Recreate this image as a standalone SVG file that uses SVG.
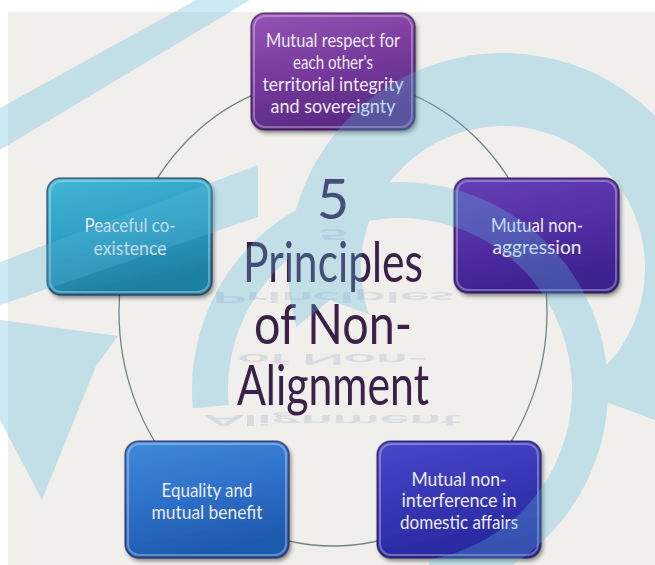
<svg xmlns="http://www.w3.org/2000/svg" width="655" height="565" viewBox="0 0 655 565">
  <defs>
    <style>
      .node-label { font-family: "Lato", "Open Sans", sans-serif; font-size: 19px; fill: #ecebf3; text-anchor: middle; }
      .title { font-family: "Lato", "Open Sans", sans-serif; font-size: 56px; fill: #3a2247; stroke: #f3e6f2; stroke-width: 1.2px; paint-order: stroke; text-anchor: middle; }
      .reflect { font-family: "Lato", "Open Sans", sans-serif; font-size: 56px; font-weight: bold; fill: #6a7ea6; opacity: 0.17; text-anchor: middle; }
      .ring { fill: none; stroke: #5ab8dc; }
      .edge { fill: none; stroke: #6f8585; stroke-width: 1.3; }
      .box-edge { fill: none; stroke: #1d0d35; stroke-opacity: 0.55; stroke-width: 1.5; }
      .box-shine { fill: none; stroke: #ffffff; stroke-opacity: 0.3; stroke-width: 2; }
    </style>
    <filter id="drop" x="-10%" y="-10%" width="125%" height="130%">
      <feDropShadow dx="2" dy="3" stdDeviation="2" flood-color="#000" flood-opacity="0.45"/>
    </filter>
    <linearGradient id="gPurple" x1="0" y1="0" x2="0.3" y2="1">
      <stop offset="0" stop-color="#9555b6"/>
      <stop offset="0.5" stop-color="#7a3c9f"/>
      <stop offset="1" stop-color="#5b2a86"/>
    </linearGradient>
    <linearGradient id="gViolet" x1="0" y1="0" x2="0.3" y2="1">
      <stop offset="0" stop-color="#6640b6"/>
      <stop offset="0.5" stop-color="#5530a6"/>
      <stop offset="1" stop-color="#3e2290"/>
    </linearGradient>
    <linearGradient id="gTeal" x1="0" y1="0" x2="0.3" y2="1">
      <stop offset="0" stop-color="#44b6d6"/>
      <stop offset="0.5" stop-color="#2ea0c4"/>
      <stop offset="1" stop-color="#1d80a4"/>
    </linearGradient>
    <linearGradient id="gBlue" x1="0" y1="0" x2="0.3" y2="1">
      <stop offset="0" stop-color="#428ad8"/>
      <stop offset="0.5" stop-color="#2f72cc"/>
      <stop offset="1" stop-color="#1f5aae"/>
    </linearGradient>
    <linearGradient id="gIndigo" x1="0" y1="0" x2="0.3" y2="1">
      <stop offset="0" stop-color="#4a48c8"/>
      <stop offset="0.5" stop-color="#3838b8"/>
      <stop offset="1" stop-color="#2928a0"/>
    </linearGradient>
    <!-- crescent in the upper right: outer disc minus inner disc -->
    <mask id="crescentCut">
      <rect x="0" y="0" width="655" height="565" fill="#fff"/>
      <circle cx="503" cy="268" r="142" fill="#000"/>
      <polygon points="0,565 330,300 655,420 655,565" fill="#000"/>
    </mask>
  </defs>

  <!-- page -->
  <rect x="0" y="0" width="655" height="565" fill="#ffffff"/>
  <rect x="8" y="12" width="647" height="553" fill="#f0efeb"/>

  <!-- ring that links the five principles -->
  <g id="connectors">
    <ellipse class="edge" cx="333" cy="312" rx="214" ry="234"/>
  </g>

  <!-- centre title with its mirrored shadow lines -->
  <g id="title">
    <text class="reflect" transform="translate(333,229) scale(1,-0.27)">5</text>
    <text class="reflect" transform="translate(333,292) scale(1,-0.27)">Principles</text>
    <text class="reflect" transform="translate(333,354) scale(1,-0.27)">of Non-</text>
    <text class="reflect" transform="translate(333,415) scale(1,-0.27)">Alignment</text>
    <text class="title" x="333" y="219">5</text>
    <text class="title" x="333" y="282" textLength="180" lengthAdjust="spacingAndGlyphs">Principles</text>
    <text class="title" x="333" y="344" textLength="158" lengthAdjust="spacingAndGlyphs">of Non-</text>
    <text class="title" x="333" y="405" textLength="192" lengthAdjust="spacingAndGlyphs">Alignment</text>
  </g>

  <g id="node-sovereignty">
    <rect x="251" y="13" width="164" height="117" rx="14" fill="url(#gPurple)" filter="url(#drop)"/>
    <rect class="box-shine" x="254" y="16" width="158" height="111" rx="11"/>
    <rect class="box-edge" x="251" y="13" width="164" height="117" rx="14"/>
    <text class="node-label" x="333" y="47" textLength="134" lengthAdjust="spacingAndGlyphs">Mutual respect for</text>
    <text class="node-label" x="333" y="69" textLength="80" lengthAdjust="spacingAndGlyphs">each other's</text>
    <text class="node-label" x="333" y="91" textLength="141" lengthAdjust="spacingAndGlyphs">territorial integrity</text>
    <text class="node-label" x="333" y="113" textLength="125" lengthAdjust="spacingAndGlyphs">and sovereignty</text>
  </g>

  <g id="node-non-aggression">
    <rect x="454" y="178" width="165" height="115" rx="14" fill="url(#gViolet)" filter="url(#drop)"/>
    <rect class="box-shine" x="457" y="181" width="159" height="109" rx="11"/>
    <rect class="box-edge" x="454" y="178" width="165" height="115" rx="14"/>
    <text class="node-label" x="537" y="232" textLength="92" lengthAdjust="spacingAndGlyphs">Mutual non-</text>
    <text class="node-label" x="537" y="254" textLength="89" lengthAdjust="spacingAndGlyphs">aggression</text>
  </g>

  <g id="node-non-interference">
    <rect x="377" y="441" width="164" height="117" rx="14" fill="url(#gIndigo)" filter="url(#drop)"/>
    <rect class="box-shine" x="380" y="444" width="158" height="111" rx="11"/>
    <rect class="box-edge" x="377" y="441" width="164" height="117" rx="14"/>
    <text class="node-label" x="459" y="486" textLength="95" lengthAdjust="spacingAndGlyphs">Mutual non-</text>
    <text class="node-label" x="459" y="507" textLength="115" lengthAdjust="spacingAndGlyphs">interference in</text>
    <text class="node-label" x="459" y="529" textLength="118" lengthAdjust="spacingAndGlyphs">domestic affairs</text>
  </g>

  <g id="node-equality">
    <rect x="125" y="441" width="164" height="117" rx="14" fill="url(#gBlue)" filter="url(#drop)"/>
    <rect class="box-shine" x="128" y="444" width="158" height="111" rx="11"/>
    <rect class="box-edge" x="125" y="441" width="164" height="117" rx="14"/>
    <text class="node-label" x="207" y="497" textLength="91" lengthAdjust="spacingAndGlyphs">Equality and</text>
    <text class="node-label" x="207" y="519" textLength="111" lengthAdjust="spacingAndGlyphs">mutual benefit</text>
  </g>

  <g id="node-coexistence">
    <rect x="47" y="178" width="165" height="117" rx="14" fill="url(#gTeal)" filter="url(#drop)"/>
    <rect class="box-shine" x="50" y="181" width="159" height="111" rx="11"/>
    <rect class="box-edge" x="47" y="178" width="165" height="117" rx="14"/>
    <text class="node-label" x="130" y="232" textLength="91" lengthAdjust="spacingAndGlyphs">Peaceful co-</text>
    <text class="node-label" x="130" y="255" textLength="73" lengthAdjust="spacingAndGlyphs">existence</text>
  </g>

  <!-- translucent logo laid over the whole sheet -->
  <g id="overlay" opacity="0.3" fill="#5ab8dc">
    <!-- tick-shaped bands on the left -->
    <polygon points="196,0 250,0 0,150 0,108"/>
    <polygon points="0,262 258,165 258,217 0,305"/>
    <polygon points="0,320 118,336 96,366 42,500 0,420"/>
    <!-- upper-right crescent -->
    <circle cx="503" cy="268" r="215" mask="url(#crescentCut)"/>
    <!-- inner ring round the title -->
    <circle class="ring" cx="400" cy="390" r="190" stroke-width="36" stroke-dasharray="880 400" transform="rotate(175 400 390)"/>
  </g>
</svg>
